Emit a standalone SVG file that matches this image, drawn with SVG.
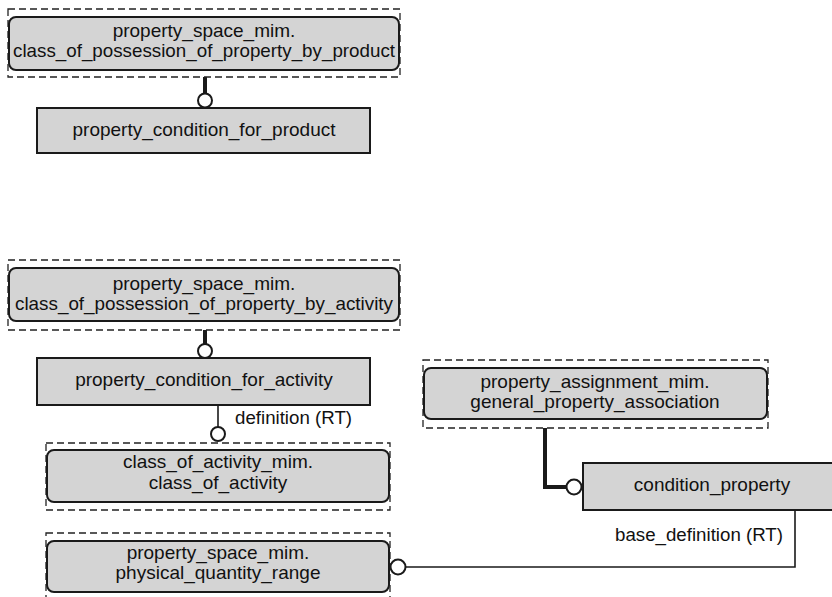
<svg xmlns="http://www.w3.org/2000/svg" width="832" height="597" viewBox="0 0 832 597">
<style>
.dash{fill:none;stroke:#222;stroke-width:1.3;stroke-dasharray:7 4}
.rbox{fill:#d4d4d4;stroke:#1a1a1a;stroke-width:2}
.box{fill:#d4d4d4;stroke:#1a1a1a;stroke-width:2}
text{font-family:"Liberation Sans",Arial,sans-serif;font-size:19px;fill:#111;text-anchor:middle}
.lbl{font-size:18.7px}
.thick{fill:none;stroke:#1a1a1a;stroke-width:4}
.thin{fill:none;stroke:#1a1a1a;stroke-width:1.6}
.circ{fill:#fff;stroke:#1a1a1a;stroke-width:2}
</style>
<rect width="832" height="597" fill="#fff"/>
<g id="connectors">
<line class="thick" x1="205" y1="77" x2="205" y2="93"/>
<circle class="circ" cx="205" cy="100.5" r="7"/>
<line class="thick" x1="205" y1="330" x2="205" y2="344"/>
<circle class="circ" cx="205" cy="351" r="7"/>
<line class="thin" x1="218" y1="405" x2="218" y2="427"/>
<circle class="circ" cx="218" cy="434" r="7"/>
<text class="lbl" x="235" y="424" style="text-anchor:start">definition (RT)</text>
<polyline class="thick" points="545,428 545,487 566,487"/>
<circle class="circ" cx="574" cy="487" r="7.5"/>
<polyline class="thin" points="795,510 795,567 406,567"/>
<circle class="circ" cx="398" cy="567" r="7.5"/>
<text class="lbl" x="783" y="541" style="text-anchor:end">base_definition (RT)</text>
</g>
<g id="node-cpp-product">
<rect class="dash" x="8" y="9" width="392" height="68"/>
<rect class="rbox" x="9" y="17" width="390" height="53" rx="7"/>
<text x="204" y="37">property_space_mim.</text>
<text x="204" y="57" textLength="382" lengthAdjust="spacingAndGlyphs">class_of_possession_of_property_by_product</text>
</g>
<g id="node-pc-product">
<rect class="box" x="37" y="108" width="333" height="45"/>
<text x="204" y="136">property_condition_for_product</text>
</g>
<g id="node-cpp-activity">
<rect class="dash" x="8" y="260" width="392" height="70"/>
<rect class="rbox" x="9" y="268" width="390" height="53" rx="7"/>
<text x="204" y="290">property_space_mim.</text>
<text x="204" y="310" textLength="378" lengthAdjust="spacingAndGlyphs">class_of_possession_of_property_by_activity</text>
</g>
<g id="node-pc-activity">
<rect class="box" x="37" y="358" width="333" height="47"/>
<text x="204" y="386">property_condition_for_activity</text>
</g>
<g id="node-class-of-activity">
<rect class="dash" x="46" y="443" width="344" height="67"/>
<rect class="rbox" x="47" y="450" width="342" height="52" rx="7"/>
<text x="218" y="468">class_of_activity_mim.</text>
<text x="218" y="489">class_of_activity</text>
</g>
<g id="node-pqr">
<rect class="dash" x="46" y="533" width="344" height="70"/>
<rect class="rbox" x="47" y="541" width="342" height="51" rx="7"/>
<text x="218" y="559">property_space_mim.</text>
<text x="218" y="579">physical_quantity_range</text>
</g>
<g id="node-gpa">
<rect class="dash" x="423" y="360" width="345" height="68"/>
<rect class="rbox" x="424" y="368" width="343" height="51" rx="7"/>
<text x="595" y="388">property_assignment_mim.</text>
<text x="595" y="408">general_property_association</text>
</g>
<g id="node-condition-property">
<rect class="box" x="583" y="463" width="260" height="47"/>
<text x="712" y="491">condition_property</text>
</g>
</svg>
